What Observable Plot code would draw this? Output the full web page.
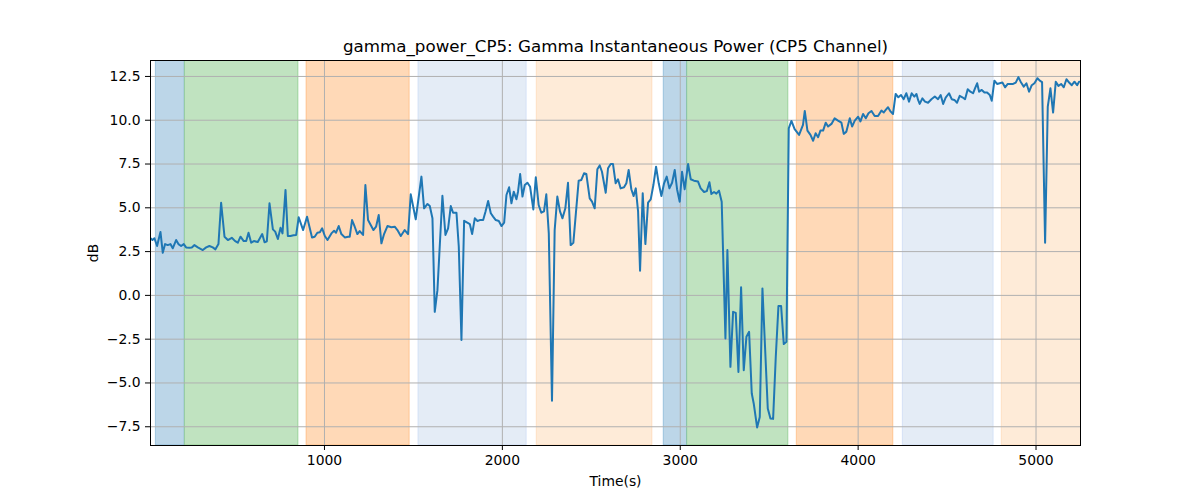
<!DOCTYPE html>
<html>
<head>
<meta charset="utf-8">
<script src="https://cdn.jsdelivr.net/npm/d3@7"></script>
<script src="https://cdn.jsdelivr.net/npm/@observablehq/plot@0.6"></script>
<style>
  body { margin: 0; background: #fff; }
  #chart svg { display: block; }
</style>
</head>
<body>
<div id="chart"></div>
<script>
// ---- data ----
const titleText = "gamma_power_CP5: Gamma Instantaneous Power (CP5 Channel)";
const xLabel = "Time(s)";
const yLabel = "dB";
const xTicks = [1000, 2000, 3000, 4000, 5000];
const yTicks = [-7.5, -5, -2.5, 0, 2.5, 5, 7.5, 10, 12.5];

// shaded phases: start, end (s), colour
const spanStarts = [52, 215, 899, 1528, 2193, 2907, 3039, 3655, 4251, 4807];
const spanEnds   = [215, 854, 1479, 2137, 2844, 3039, 3608, 4198, 4762, 5400];
const spanColors = ["#bcd6e8", "#c0e3c0", "#ffd9b7", "#e4ecf6", "#feebd8",
                    "#bcd6e8", "#c0e3c0", "#ffd9b7", "#e4ecf6", "#feebd8"];
const spanEdges  = ["#1f77b4", "#2ca02c", "#ff7f0e", "#6495ed", "#ff7f0e",
                    "#1f77b4", "#2ca02c", "#ff7f0e", "#6495ed", "#ff7f0e"];
const spanEdgeOpacity = [0.3, 0.3, 0.3, 0.17, 0.15, 0.3, 0.3, 0.3, 0.17, 0.15];

// [time (s), power (dB)]
const gammaPower = [
[22,3.26],[33,3.16],[44,3.26],[59,2.82],[78,3.62],[91,2.43],[104,2.93],[119,2.87],[134,2.93],[147,2.69],
[166,3.16],[179,2.93],[194,2.82],[209,2.93],[222,2.74],[241,2.72],[254,2.74],[269,2.87],[288,2.74],[316,2.59],
[335,2.74],[353,2.82],[372,2.74],[387,2.63],[404,2.93],[419,5.29],[438,3.35],[457,3.16],[479,3.29],[498,3.10],
[513,3.01],[528,3.35],[546,3.10],[560,3.10],[573,3.58],[588,3.01],[603,3.10],[625,3.05],[650,3.50],[663,3.03],
[676,3.09],[691,5.26],[710,3.77],[723,3.64],[738,3.22],[753,3.86],[764,3.54],[781,6.02],[794,3.39],[809,3.39],
[826,3.43],[841,3.45],[855,4.46],[880,3.73],[902,4.49],[930,3.31],[945,3.35],[960,3.58],[974,3.60],[987,3.83],
[1002,3.39],[1017,3.16],[1039,3.54],[1054,3.69],[1065,3.58],[1080,3.96],[1095,3.50],[1114,3.31],[1133,3.35],[1142,3.35],
[1155,4.30],[1170,3.92],[1185,3.50],[1198,3.67],[1217,3.45],[1230,6.30],[1245,4.30],[1260,4.02],[1275,3.73],[1290,3.92],
[1305,4.59],[1320,2.97],[1335,3.50],[1354,3.96],[1376,3.89],[1395,3.92],[1410,3.73],[1429,3.39],[1451,3.73],[1470,3.50],
[1485,5.77],[1513,4.34],[1545,6.78],[1560,4.97],[1579,5.22],[1592,5.10],[1607,4.40],[1620,-0.94],[1635,0.30],[1663,5.69],
[1680,3.45],[1695,3.83],[1710,5.10],[1723,4.72],[1742,4.72],[1755,2.78],[1770,-2.55],[1785,4.26],[1803,4.15],[1817,4.07],
[1830,3.50],[1845,4.40],[1860,4.25],[1873,4.30],[1892,4.30],[1905,4.78],[1920,5.39],[1935,4.69],[1948,4.50],[1963,4.30],
[1980,4.25],[1995,3.96],[2010,4.15],[2023,5.73],[2038,6.17],[2051,5.26],[2064,5.92],[2079,5.49],[2088,5.92],[2100,6.93],
[2113,5.64],[2126,6.30],[2141,6.43],[2156,6.20],[2174,4.91],[2188,6.74],[2204,5.16],[2219,4.72],[2234,4.80],[2247,5.77],
[2261,3.54],[2279,-6.02],[2294,3.73],[2309,5.64],[2324,4.80],[2338,4.40],[2354,4.97],[2369,6.43],[2384,2.87],[2399,3.00],
[2429,6.55],[2444,6.59],[2459,6.97],[2472,6.93],[2491,5.54],[2504,5.35],[2519,4.97],[2534,7.20],[2547,7.42],[2560,7.06],
[2581,5.86],[2594,7.26],[2609,7.50],[2622,7.50],[2637,6.40],[2650,6.63],[2665,6.11],[2684,6.17],[2697,6.40],[2710,7.16],
[2725,6.06],[2738,5.67],[2750,6.11],[2763,4.78],[2774,1.41],[2789,5.83],[2804,2.93],[2819,5.29],[2834,5.48],[2849,6.30],
[2864,7.35],[2879,6.40],[2894,5.67],[2909,6.40],[2924,6.78],[2939,6.11],[2954,6.43],[2969,7.16],[2982,6.06],[2997,5.35],
[3010,7.06],[3025,6.06],[3044,7.50],[3059,6.63],[3077,6.55],[3100,6.50],[3115,6.11],[3134,5.90],[3149,5.95],[3164,6.46],
[3175,5.79],[3190,5.90],[3203,5.81],[3218,5.98],[3233,5.35],[3254,-2.46],[3265,2.59],[3282,-4.08],[3297,-0.94],[3312,-1.00],
[3327,-4.37],[3342,0.46],[3357,-4.27],[3372,-2.36],[3387,-2.08],[3402,-5.60],[3413,-6.17],[3432,-7.54],[3447,-6.94],[3462,0.40],
[3492,-6.46],[3507,-7.03],[3522,-7.05],[3537,-3.50],[3552,-0.61],[3567,-0.61],[3582,-2.78],[3597,-2.65],[3610,9.54],[3625,9.96],
[3643,9.49],[3668,9.16],[3690,9.73],[3700,10.53],[3715,9.41],[3732,9.16],[3747,8.83],[3761,9.26],[3775,9.03],[3788,9.41],
[3803,9.41],[3818,9.86],[3831,9.64],[3850,9.79],[3868,10.11],[3887,9.98],[3906,9.86],[3919,9.22],[3934,9.35],[3953,10.11],
[3966,9.64],[3981,9.98],[4000,10.20],[4013,9.93],[4028,10.36],[4043,10.11],[4058,10.40],[4075,10.53],[4093,10.24],[4112,10.24],
[4131,10.55],[4144,10.44],[4155,10.59],[4168,10.74],[4183,10.49],[4196,10.36],[4211,11.50],[4226,11.31],[4241,11.44],[4256,11.20],
[4271,11.54],[4286,11.06],[4301,11.54],[4316,11.35],[4328,11.50],[4337,11.16],[4346,10.93],[4361,11.25],[4376,11.06],[4393,11.00],
[4412,11.20],[4431,11.35],[4449,11.20],[4464,11.44],[4478,10.93],[4492,11.29],[4511,11.54],[4526,11.20],[4541,11.16],[4556,11.00],
[4571,11.39],[4586,11.31],[4601,11.20],[4616,11.77],[4631,11.63],[4646,11.54],[4657,11.82],[4669,12.11],[4680,11.63],[4695,11.73],
[4710,11.58],[4725,11.58],[4740,11.44],[4751,11.11],[4766,12.26],[4781,12.07],[4796,12.11],[4811,12.15],[4826,11.88],[4841,12.07],
[4856,12.07],[4871,12.07],[4886,12.15],[4901,12.46],[4916,12.15],[4931,11.92],[4946,12.11],[4961,11.63],[4976,12.00],[4991,12.11],
[5008,12.40],[5021,12.26],[5034,12.18],[5051,3.00],[5066,10.78],[5081,11.82],[5096,10.44],[5111,12.20],[5126,11.96],[5141,12.07],
[5156,11.88],[5171,12.34],[5186,12.15],[5201,12.00],[5216,12.20],[5231,12.00],[5242,12.20]
];

// ---- build tables for Plot ----
const spans = spanStarts.map((s, i) => ({
  start: s, end: spanEnds[i], color: spanColors[i], edge: spanEdges[i], edgeOpacity: spanEdgeOpacity[i]
}));
const series = gammaPower.map(([t, v]) => ({t, v}));
const fmt = d3.format(".1f");

const chart = Plot.plot({
  width: 1200,
  height: 500,
  marginLeft: 150,
  marginRight: 120,
  marginTop: 60,
  marginBottom: 55,
  style: {fontFamily: "DejaVu Sans, sans-serif", fontSize: "13.9px", color: "#000", background: "#fff"},
  x: {domain: [22, 5250]},
  y: {domain: [-8.57, 13.41]},
  color: {type: "identity"},
  opacity: {type: "identity"},
  marks: [
    Plot.rect(spans, {x1: "start", x2: "end", fill: "color", stroke: "edge", strokeOpacity: "edgeOpacity", strokeWidth: 1, clip: true}),
    Plot.gridX(xTicks, {stroke: "#b0b0b0", strokeOpacity: 1, strokeWidth: 1}),
    Plot.gridY(yTicks, {stroke: "#b0b0b0", strokeOpacity: 1, strokeWidth: 1}),
    Plot.line(series, {x: "t", y: "v", stroke: "#1f77b4", strokeWidth: 2, clip: true}),
    Plot.frame({stroke: "#000", strokeWidth: 1}),
    Plot.axisX(xTicks, {tickSize: 5, tickPadding: 5, label: null, tickFormat: d => String(d), fontSize: 13.9}),
    Plot.axisY(yTicks, {tickSize: 5, tickPadding: 5, label: null, tickFormat: fmt, fontSize: 13.9}),
    Plot.text([titleText], {frameAnchor: "top", dy: -14, fontSize: 16.7, lineAnchor: "middle", textAnchor: "middle"}),
    Plot.text([xLabel], {frameAnchor: "bottom", dy: 36, fontSize: 13.9, lineAnchor: "middle", textAnchor: "middle"}),
    Plot.text([yLabel], {frameAnchor: "left", dx: -57, rotate: -90, fontSize: 13.9, lineAnchor: "middle", textAnchor: "middle"})
  ]
});
document.getElementById("chart").appendChild(chart);
</script>
</body>
</html>
